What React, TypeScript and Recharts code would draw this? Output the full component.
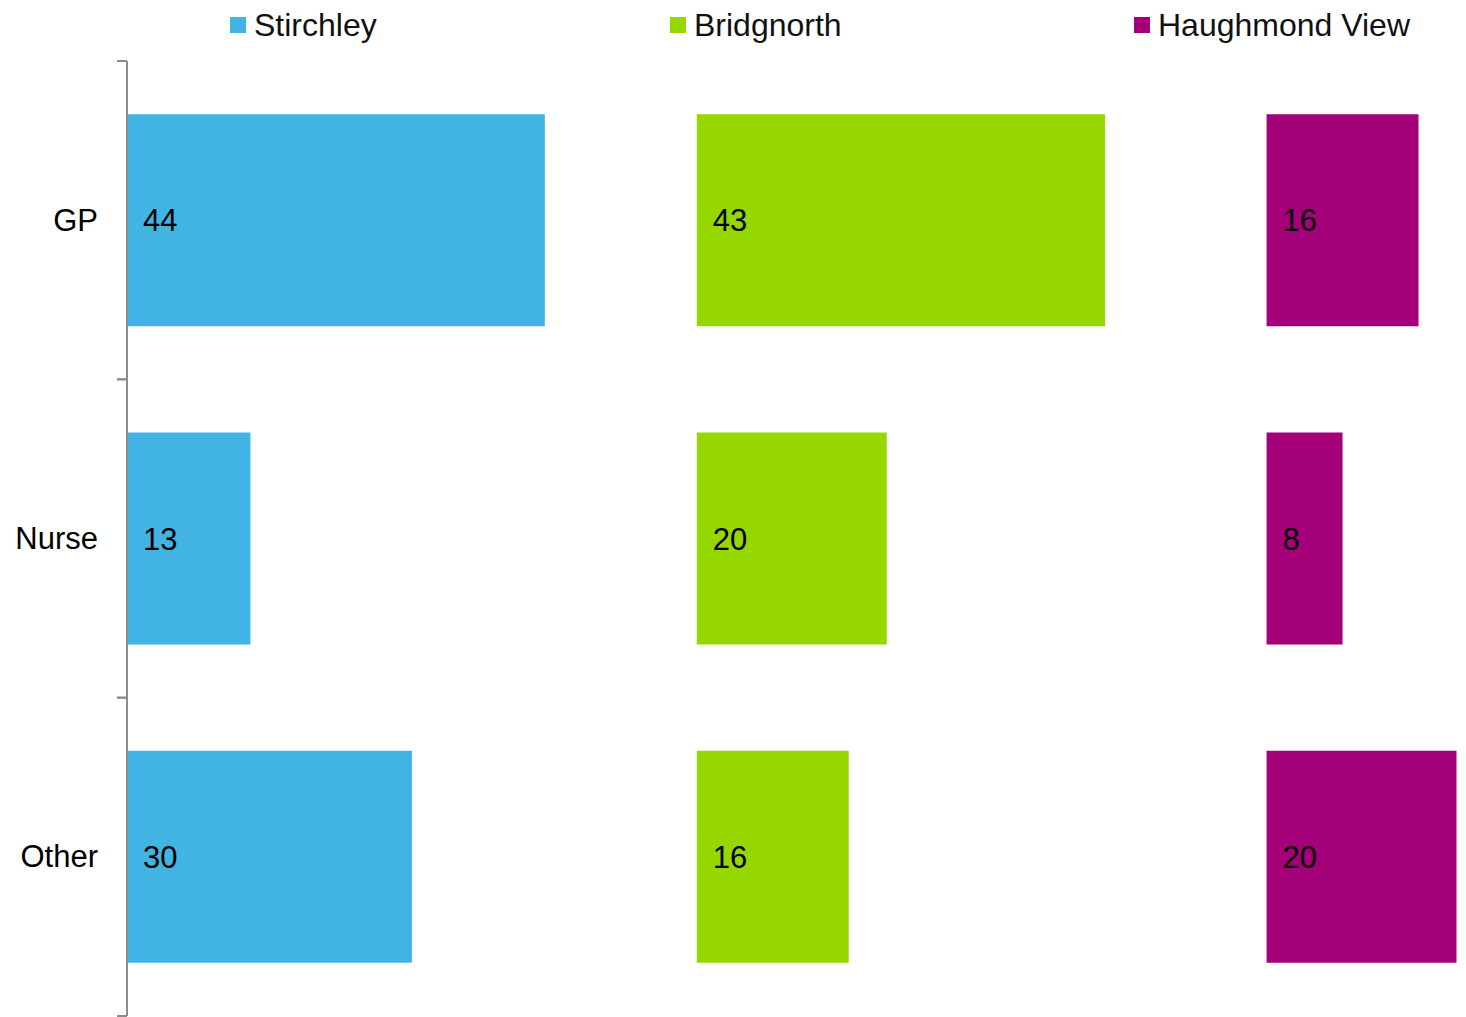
import React from "react";
import { BarChart, Bar, XAxis, YAxis, LabelList, ReferenceLine } from "recharts";

const categories = ["GP", "Nurse", "Other"];
const stirchley = [44, 13, 30];
const bridgnorth = [43, 20, 16];
const haughmond = [16, 8, 20];

const seriesNames = ["Stirchley", "Bridgnorth", "Haughmond View"];
const seriesColors = ["#41B4E4", "#97D700", "#A3007A"];

const data = categories.map((name, i) => ({
  name,
  s: stirchley[i],
  b: bridgnorth[i],
  h: haughmond[i],
}));

const W = 1466;
const H = 1017;
const TOP = 61;
const BOTTOM = 1;
const AXIS_W = 127;
const BAND = (H - TOP - BOTTOM) / categories.length;
const FONT = "'Liberation Sans', Arial, sans-serif";

// category label plus the small tick marks at band edges
const CategoryTick = (props: any) => {
  const { y, payload } = props;
  return (
    <g>
      <text
        x={AXIS_W - 29}
        y={y}
        textAnchor="end"
        dominantBaseline="central"
        fontSize={31}
        fontFamily={FONT}
        fill="#000"
      >
        {payload.value}
      </text>
      <line x1={AXIS_W - 10} x2={AXIS_W} y1={y - BAND / 2} y2={y - BAND / 2} stroke="#8c8c8c" strokeWidth={2} />
      <line x1={AXIS_W - 10} x2={AXIS_W} y1={y + BAND / 2} y2={y + BAND / 2} stroke="#8c8c8c" strokeWidth={2} />
    </g>
  );
};

const legendX = [230, 670, 1134];

export default function App() {
  return (
    <div style={{ position: "absolute", left: 0, top: 0, width: W, height: H, background: "#fff", fontFamily: FONT }}>
      {seriesNames.map((n, i) => (
        <div key={n} style={{ position: "absolute", left: legendX[i], top: 2, height: 46, display: "flex", alignItems: "center" }}>
          <span style={{ width: 16, height: 16, background: seriesColors[i], display: "inline-block", marginRight: 8 }} />
          <span style={{ fontSize: 32, color: "#111", lineHeight: "46px" }}>{n}</span>
        </div>
      ))}
      <BarChart
        width={W}
        height={H}
        data={data}
        layout="vertical"
        margin={{ top: TOP, right: 0, bottom: BOTTOM, left: 0 }}
        barCategoryGap="16.7%"
      >
        <XAxis xAxisId="s" type="number" domain={[0, 141]} hide allowDataOverflow />
        <XAxis xAxisId="b" type="number" domain={[-60, 81]} hide allowDataOverflow />
        <XAxis xAxisId="h" type="number" domain={[-120, 21]} hide allowDataOverflow />
        <YAxis
          yAxisId="s"
          type="category"
          dataKey="name"
          width={AXIS_W}
          tick={<CategoryTick />}
          tickLine={false}
          axisLine={false}
        />
        <YAxis yAxisId="b" type="category" dataKey="name" hide />
        <YAxis yAxisId="h" type="category" dataKey="name" hide />
        {(["s", "b", "h"] as const).map((k, i) => (
          <Bar
            key={k}
            dataKey={k}
            name={seriesNames[i]}
            xAxisId={k}
            yAxisId={k}
            fill={seriesColors[i]}
            isAnimationActive={false}
          >
            <LabelList dataKey={k} position="insideLeft" offset={16} fill="#000" fontSize={31} fontFamily={FONT} />
          </Bar>
        ))}
        <ReferenceLine x={0} xAxisId="s" yAxisId="s" stroke="#8c8c8c" strokeWidth={2} />
      </BarChart>
    </div>
  );
}
